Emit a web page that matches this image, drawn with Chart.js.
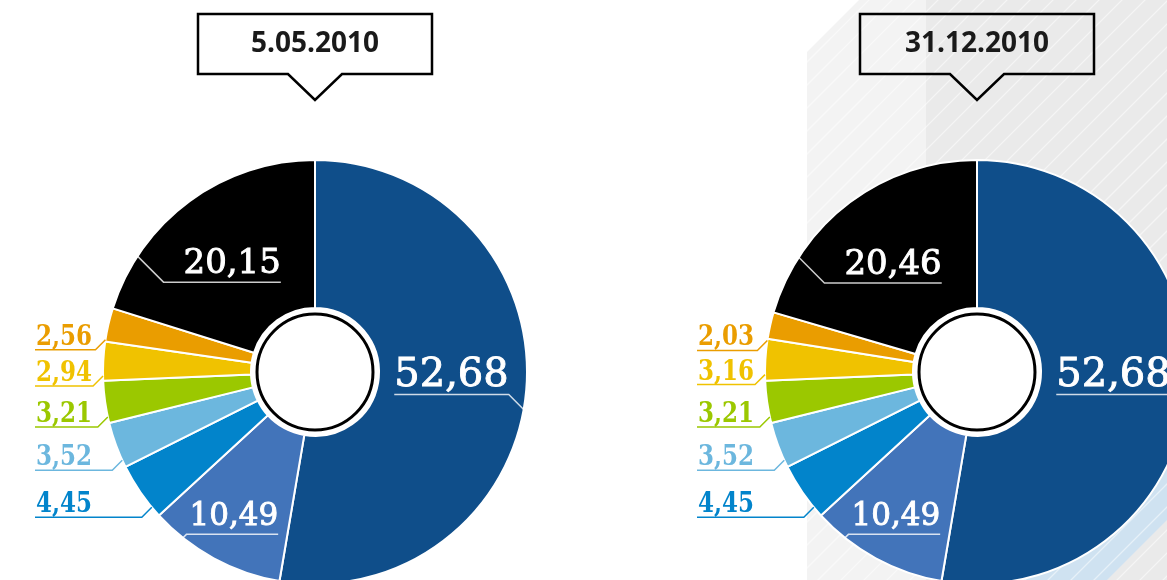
<!DOCTYPE html>
<html>
<head>
<meta charset="utf-8">
<script src="https://cdn.jsdelivr.net/npm/chart.js@4.4.0/dist/chart.umd.min.js"></script>
<style>
    html, body { margin: 0; padding: 0; background: #fff; width: 1167px; height: 580px; overflow: hidden; }
    canvas { position: absolute; left: 0; top: 0; }
</style>
</head>
<body>
<canvas id="chartDec" width="1240" height="600"></canvas>
<canvas id="chartMay" width="1240" height="600"></canvas>
<script>
// slices, clockwise from 12 o'clock
var segments = ['seg1', 'seg2', 'seg3', 'seg4', 'seg5', 'seg6', 'seg7', 'seg8'];
var dates = ['5.05.2010', '31.12.2010'];
var sharesMay = [52.68, 10.49, 4.45, 3.52, 3.21, 2.94, 2.56, 20.15];
var sharesDec = [52.68, 10.49, 4.45, 3.52, 3.21, 3.16, 2.03, 20.46];
var segColors = ['#0f4e8a', '#4274ba', '#0284cb', '#6cb7de', '#9bc800', '#f0c200', '#ea9d00', '#000000'];

// labels drawn inside the slice (r = label distance from centre, dy = baseline shift)
var insideLabels = {
    0: { r: 137, dy: 2, size: 40, pad: 0 },
    1: { r: 170, dy: 4, size: 31, pad: 3 },
    7: { r: 140, dy: 14, size: 34, pad: 20 }
};

function fmt(v) {
    return v.toFixed(2).replace('.', ',');
}

/* grey striped panel behind the second chart */
var panelPlugin = {
    id: 'panel',
    beforeDraw: function(chart) {
        var ctx = chart.ctx;
        ctx.save();
        ctx.beginPath();
        ctx.moveTo(807, 52); ctx.lineTo(859, 0); ctx.lineTo(1240, 0);
        ctx.lineTo(1240, 600); ctx.lineTo(807, 600); ctx.closePath();
        ctx.fillStyle = '#f3f3f3';
        ctx.fill();
        ctx.clip();
        ctx.fillStyle = '#eaeaea';
        ctx.fillRect(926, 0, 314, 600);
        // light blue band
        ctx.beginPath();
        ctx.moveTo(960, 600); ctx.lineTo(1240, 320); ctx.lineTo(1240, 447); ctx.lineTo(1087, 600);
        ctx.closePath();
        ctx.fillStyle = '#cfe2f1';
        ctx.fill();
        // stripes
        ctx.strokeStyle = 'rgba(255,255,255,0.5)';
        ctx.lineWidth = 1.3;
        for (var k = 800; k < 1900; k += 23) {
            ctx.beginPath();
            ctx.moveTo(k - 700, 700);
            ctx.lineTo(k + 100, -100);
            ctx.stroke();
        }
        ctx.restore();
    }
};

var labelPlugin = {
    id: 'sliceLabels',
    afterDatasetsDraw: function(chart) {
        var ctx = chart.ctx;
        var arcs = chart.getDatasetMeta(0).data;
        var values = chart.data.datasets[0].data;
        var cx = arcs[0].x, cy = arcs[0].y, R = arcs[0].outerRadius;

        // hub
        ctx.save();
        ctx.beginPath();
        ctx.arc(cx, cy, arcs[0].innerRadius, 0, Math.PI * 2);
        ctx.fillStyle = '#fff';
        ctx.fill();
        ctx.beginPath();
        ctx.arc(cx, cy, arcs[0].innerRadius - 6, 0, Math.PI * 2);
        ctx.lineWidth = 3;
        ctx.strokeStyle = '#000';
        ctx.stroke();

        arcs.forEach(function(arc, i) {
            var mid = (arc.startAngle + arc.endAngle) / 2;
            var txt = fmt(values[i]);
            var L = insideLabels[i];
            if (L) {
                var px = cx + L.r * Math.cos(mid);
                var py = cy + L.r * Math.sin(mid) + L.dy;
                ctx.font = L.size + 'px "DejaVu Serif"';
                ctx.fillStyle = '#fff';
                ctx.strokeStyle = '#fff';
                ctx.lineWidth = 0.9;
                ctx.textAlign = 'center';
                ctx.textBaseline = 'alphabetic';
                ctx.fillText(txt, px, py);
                ctx.strokeText(txt, px, py);
                var w = ctx.measureText(txt).width;
                var side = Math.cos(mid) >= 0 ? 1 : -1;
                var uy = py + 9;
                var ex = px + side * (w / 2 + L.pad);
                var sx = px - side * (w / 2);
                var vs = uy > cy ? 1 : -1;
                var a = ex - cx, b = uy - cy;
                var p = a * side + b * vs;
                var t = (-p + Math.sqrt(p * p - 2 * (a * a + b * b - R * R))) / 2;
                ctx.beginPath();
                ctx.moveTo(sx, uy);
                ctx.lineTo(ex, uy);
                ctx.lineTo(ex + side * t, uy + vs * t);
                ctx.lineWidth = 1.5;
                ctx.strokeStyle = 'rgba(255,255,255,0.8)';
                ctx.stroke();
            } else {
                var ay = cy + R * Math.sin(mid) + 15;
                var ax = cx - Math.sqrt(R * R - (ay - cy) * (ay - cy));
                var ly = ay + 10;
                var lx = cx - 280;
                ctx.beginPath();
                ctx.moveTo(lx, ly);
                ctx.lineTo(ax - 10, ly);
                ctx.lineTo(ax, ay);
                ctx.lineWidth = 1.5;
                ctx.strokeStyle = segColors[i];
                ctx.stroke();
                // condensed serif, squeezed to the width used in the original
                ctx.font = 'bold 27px "DejaVu Serif"';
                var sw = ctx.measureText(txt).width;
                ctx.save();
                ctx.translate(lx + 1, ly - 5);
                ctx.scale(56 / sw, 1);
                ctx.fillStyle = segColors[i];
                ctx.textAlign = 'left';
                ctx.textBaseline = 'alphabetic';
                ctx.fillText(txt, 0, 0);
                ctx.restore();
            }
        });
        ctx.restore();
    }
};

function calloutPlugin(text, fill) {
    return {
        id: 'callout',
        afterDraw: function(chart) {
            var ctx = chart.ctx;
            var cx = chart.getDatasetMeta(0).data[0].x;
            var l = cx - 117, r = cx + 117, t = 14, b = 74;
            ctx.save();
            ctx.beginPath();
            ctx.moveTo(l, t); ctx.lineTo(r, t); ctx.lineTo(r, b);
            ctx.lineTo(cx + 27, b); ctx.lineTo(cx, 100); ctx.lineTo(cx - 27, b);
            ctx.lineTo(l, b); ctx.closePath();
            if (fill) {
                ctx.fillStyle = fill;
                ctx.fill();
            }
            ctx.lineWidth = 2.5;
            ctx.strokeStyle = '#000';
            ctx.stroke();
            ctx.font = 'bold 28px "Open Sans"';
            ctx.fillStyle = '#1a1a1a';
            ctx.textAlign = 'center';
            ctx.textBaseline = 'alphabetic';
            ctx.fillText(text, cx, 52);
            ctx.restore();
        }
    };
}

function makeChart(id, shares, date, padLeft, extra, fill) {
    var plugins = [labelPlugin, calloutPlugin(date, fill)];
    if (extra) plugins.unshift(extra);
    return new Chart(document.getElementById(id), {
        type: 'doughnut',
        data: {
            labels: segments,
            datasets: [{
                data: shares,
                backgroundColor: segColors,
                borderColor: '#fff',
                borderWidth: 2,
                hoverBorderWidth: 2,
                hoverOffset: 0
            }]
        },
        options: {
            responsive: false,
            animation: false,
            cutout: 64,
            events: [],
            layout: { padding: { left: padLeft, top: 159, right: 1240 - padLeft - 426, bottom: 15 } },
            plugins: {
                legend: { display: false },
                tooltip: { enabled: false }
            }
        },
        plugins: plugins
    });
}

makeChart('chartDec', sharesDec, dates[1], 764, panelPlugin, null);
makeChart('chartMay', sharesMay, dates[0], 102, null, '#fff');
</script>
</body>
</html>
